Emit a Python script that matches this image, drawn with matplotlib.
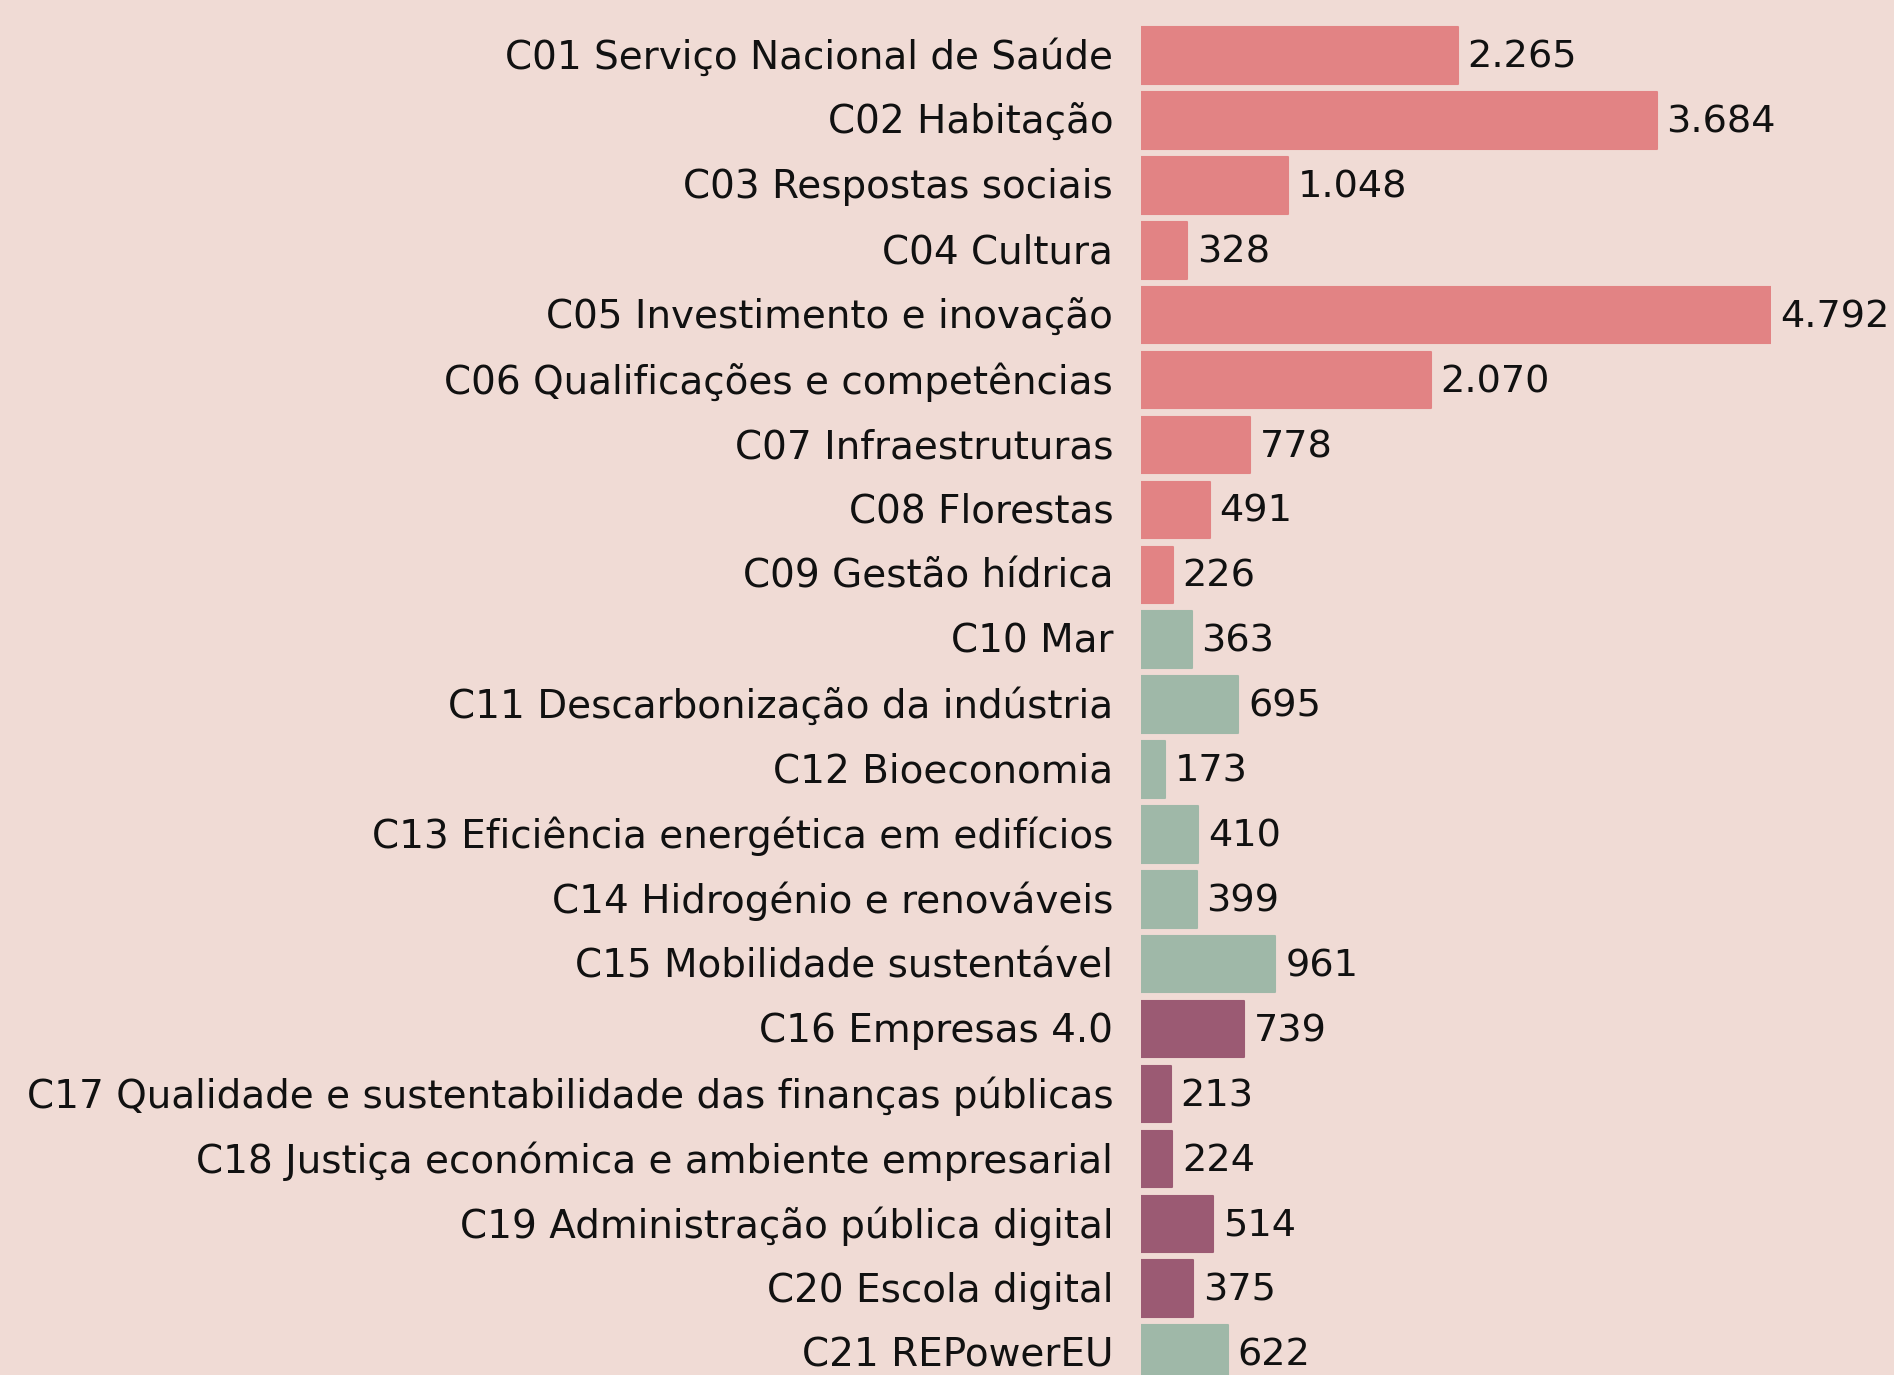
import matplotlib
matplotlib.use("Agg")
import matplotlib.pyplot as plt
import matplotlib.transforms as mtransforms

# componentes do PRR e montantes (milhões de euros)
labels = [
    "C01 Serviço Nacional de Saúde",
    "C02 Habitação",
    "C03 Respostas sociais",
    "C04 Cultura",
    "C05 Investimento e inovação",
    "C06 Qualificações e competências",
    "C07 Infraestruturas",
    "C08 Florestas",
    "C09 Gestão hídrica",
    "C10 Mar",
    "C11 Descarbonização da indústria",
    "C12 Bioeconomia",
    "C13 Eficiência energética em edifícios",
    "C14 Hidrogénio e renováveis",
    "C15 Mobilidade sustentável",
    "C16 Empresas 4.0",
    "C17 Qualidade e sustentabilidade das finanças públicas",
    "C18 Justiça económica e ambiente empresarial",
    "C19 Administração pública digital",
    "C20 Escola digital",
    "C21 REPowerEU",
]
values = [2265, 3684, 1048, 328, 4792, 2070, 778, 491, 226,
          363, 695, 173, 410, 399, 961,
          739, 213, 224, 514, 375, 622]
groups = ["resiliencia"] * 9 + ["climatica"] * 6 + ["digital"] * 5 + ["climatica"]

group_colors = {"resiliencia": "#E28384", "climatica": "#9FB8A8", "digital": "#9B5A73"}
bg = "#F0DBD5"

plt.rcParams['font.family'] = ['DejaVu Sans']

fig = plt.figure(figsize=(18.94, 13.75), dpi=100, facecolor=bg)
ax = fig.add_axes([0.6024, 0.0, 0.3326, 1.0])
ax.set_facecolor(bg)

ys = list(range(len(values)))
colors = [group_colors[g] for g in groups]
# thin edge in the same colour with round joins -> slightly rounded corners
bars = ax.barh(ys, values, height=0.87, color=colors, edgecolor=colors, linewidth=1.5)
for b in bars:
    b.set_joinstyle("round")

ax.set_xlim(0, 4500)
ax.set_ylim(20.33, -0.857)

for y, v in zip(ys, values):
    txt = f"{v:,}".replace(",", ".")
    ax.annotate(txt, xy=(min(v, 4500), y), xytext=(7, -1.5), textcoords="offset points",
                va="center", ha="left", fontsize=27.5, color="#111111",
                annotation_clip=False)

ax.set_yticks(ys)
ax.set_yticklabels(labels, fontsize=28, color="#111111", va="center")
ax.tick_params(axis="y", length=0, pad=20)
ax.set_xticks([])
for s in ax.spines.values():
    s.set_visible(False)

shift = mtransforms.ScaledTranslation(0, -1.5 / 72, fig.dpi_scale_trans)
for lab in ax.get_yticklabels():
    lab.set_transform(lab.get_transform() + shift)

fig.savefig("out.png", dpi=100, facecolor=bg)
